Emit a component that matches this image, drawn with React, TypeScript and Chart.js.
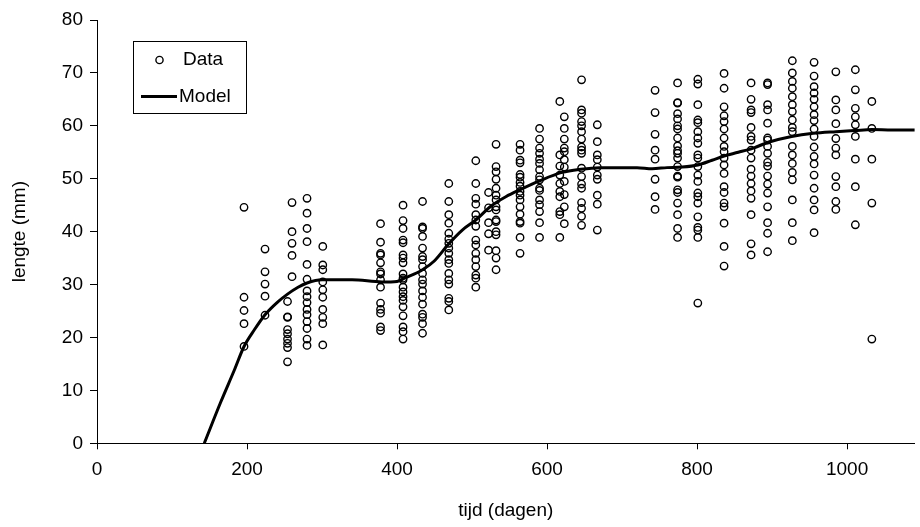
import React, { useEffect, useRef } from 'react';
import { Chart, registerables } from 'chart.js';

Chart.register(...registerables);

// Sampling days (x) and measured lengths (mm) for each sample
const sampleDays = [196, 224, 254, 260, 280, 301, 378, 408, 434, 469, 505, 522, 532, 564, 590, 617, 623, 646, 667, 744, 774, 801, 836, 872, 894, 927, 956, 985, 1011, 1033];
const sampleLengths = [
  [44.6, 27.6, 25.1, 22.6, 18.3],
  [36.7, 32.4, 30.1, 27.8, 24.2],
  [26.8, 23.9, 23.8, 21.5, 20.7, 19.7, 18.9, 18.1, 15.4],
  [45.5, 40.0, 37.8, 35.5, 31.5],
  [46.3, 43.5, 40.6, 38.1, 33.8, 31.0, 28.8, 27.7, 26.6, 25.3, 24.3, 23.0, 21.7, 19.7, 18.5],
  [37.2, 33.7, 32.8, 30.5, 29.0, 27.6, 25.3, 23.8, 22.6, 18.6],
  [41.5, 38.0, 35.9, 35.6, 34.1, 32.4, 32.0, 30.9, 29.5, 26.5, 25.3, 24.6, 22.0, 21.3],
  [45.0, 42.1, 40.6, 38.4, 37.9, 35.6, 35.0, 34.1, 32.0, 31.2, 30.9, 29.5, 28.6, 27.7, 27.0, 25.8, 24.1, 22.0, 21.1, 19.7],
  [45.7, 40.9, 40.6, 39.1, 36.9, 35.3, 34.7, 33.4, 32.1, 30.9, 30.1, 28.8, 27.6, 26.3, 24.4, 23.8, 22.6, 20.8],
  [49.1, 45.7, 43.2, 41.6, 39.7, 38.6, 37.8, 36.9, 35.9, 34.7, 34.0, 32.1, 30.9, 30.1, 27.4, 26.8, 25.2],
  [53.4, 49.1, 46.3, 45.2, 43.2, 42.2, 41.0, 38.4, 37.5, 35.9, 34.7, 33.4, 31.8, 31.2, 29.5],
  [47.4, 44.5, 41.7, 39.6, 36.5],
  [56.5, 52.3, 51.3, 49.9, 48.2, 46.9, 46.0, 44.7, 44.1, 42.2, 41.9, 40.0, 39.4, 36.4, 35.0, 32.8],
  [56.5, 55.4, 53.5, 53.0, 50.8, 50.3, 49.3, 48.6, 47.6, 46.9, 46.0, 44.7, 43.3, 41.6, 41.9, 38.9, 35.9],
  [59.5, 57.5, 55.8, 54.8, 53.7, 52.9, 51.7, 50.4, 49.8, 48.2, 47.8, 46.0, 45.1, 43.8, 41.7, 38.9],
  [64.6, 54.5, 52.4, 50.7, 49.1, 47.6, 46.6, 43.8, 43.2, 38.9],
  [61.7, 59.5, 57.5, 55.8, 55.1, 53.6, 52.2, 49.5, 47.0, 44.7, 41.5],
  [68.7, 63.0, 62.4, 60.8, 60.0, 58.9, 57.5, 56.0, 55.4, 54.8, 52.0, 50.4, 49.0, 48.2, 45.5, 44.4, 42.9, 41.2],
  [60.2, 57.0, 54.5, 53.6, 52.2, 50.7, 49.9, 46.9, 45.2, 40.3],
  [66.7, 62.5, 58.4, 55.4, 53.7, 49.9, 46.6, 44.2],
  [68.1, 64.4, 64.3, 62.3, 61.3, 60.0, 59.4, 57.7, 56.2, 55.3, 54.8, 53.9, 52.3, 50.5, 50.3, 47.9, 47.4, 45.4, 43.2, 40.6, 38.9],
  [68.8, 67.9, 64.0, 61.1, 60.6, 58.9, 57.7, 56.7, 54.5, 53.9, 52.3, 50.7, 49.5, 47.3, 46.6, 45.4, 42.8, 40.8, 40.3, 38.9, 26.5],
  [69.9, 67.1, 63.6, 61.9, 60.8, 59.4, 57.7, 56.1, 55.1, 53.9, 52.6, 51.0, 48.5, 47.4, 45.4, 44.7, 41.6, 37.2, 33.5],
  [68.1, 65.0, 63.0, 62.5, 59.7, 58.0, 57.3, 55.4, 53.9, 51.8, 50.5, 49.1, 47.7, 46.3, 43.2, 37.7, 35.6],
  [68.1, 67.8, 64.0, 63.0, 60.5, 57.7, 57.3, 56.1, 54.8, 53.1, 52.4, 50.5, 49.0, 47.3, 44.7, 41.7, 39.7, 36.2],
  [72.3, 70.0, 68.4, 67.1, 65.5, 64.0, 62.7, 61.1, 59.7, 58.9, 56.1, 54.5, 52.9, 51.2, 49.8, 46.0, 41.7, 38.3],
  [72.0, 69.4, 67.4, 66.2, 65.0, 63.6, 62.1, 61.0, 59.4, 58.0, 56.0, 54.2, 52.8, 50.7, 48.2, 46.0, 44.1, 39.8],
  [70.2, 64.9, 63.0, 60.4, 57.6, 55.8, 54.5, 50.4, 48.5, 45.7, 44.2],
  [70.6, 66.8, 63.3, 61.7, 60.2, 58.0, 53.7, 48.5, 41.3],
  [64.6, 59.5, 53.7, 45.4, 19.7],
];

// Fitted model curve
const modelDays = [143, 165, 183, 196, 210, 224, 240, 254, 268, 280, 300, 340, 380, 400, 410, 434, 450, 469, 487, 505, 525, 545, 565, 590, 620, 645, 670, 720, 740, 760, 780, 801, 820, 836, 855, 875, 895, 926, 955, 985, 1010, 1033, 1060, 1100];
const modelLengths = [0, 7.8, 13.8, 18.3, 21.5, 24.3, 26.6, 28.2, 29.5, 30.3, 30.9, 30.9, 30.5, 30.6, 31.2, 32.8, 34.5, 37.7, 40.3, 42.2, 44.8, 46.6, 48.0, 49.6, 51.2, 51.8, 52.1, 52.1, 51.9, 52.1, 52.2, 52.6, 53.5, 54.3, 55.0, 55.8, 56.9, 58.0, 58.6, 58.9, 59.1, 59.3, 59.2, 59.2];

const xTicks = [0, 200, 400, 600, 800, 1000];
const yTicks = [0, 10, 20, 30, 40, 50, 60, 70, 80];

const FONT = "'Liberation Sans', Arial, sans-serif";

const legendPlugin = {
  id: 'customLegend',
  afterDraw(chart: any) {
    const ctx = chart.ctx;
    ctx.save();
    ctx.strokeStyle = '#000';
    ctx.lineWidth = 1;
    ctx.fillStyle = '#fff';
    ctx.fillRect(133.5, 41.5, 113, 72);
    ctx.strokeRect(133.5, 41.5, 113, 72);
    // Data marker
    ctx.beginPath();
    ctx.lineWidth = 1.4;
    ctx.arc(159.5, 60, 3.6, 0, Math.PI * 2);
    ctx.stroke();
    // Model line
    ctx.beginPath();
    ctx.lineWidth = 3;
    ctx.moveTo(141, 96.5);
    ctx.lineTo(177, 96.5);
    ctx.stroke();
    ctx.fillStyle = '#000';
    ctx.font = `19px ${FONT}`;
    ctx.textBaseline = 'middle';
    ctx.textAlign = 'left';
    ctx.fillText('Data', 183, 60);
    ctx.fillText('Model', 179, 97);
    ctx.restore();
  },
};

export default function App() {
  const ref = useRef<HTMLCanvasElement | null>(null);

  useEffect(() => {
    if (!ref.current) return;
    const points: { x: number; y: number }[] = [];
    sampleDays.forEach((d, i) => {
      sampleLengths[i].forEach((v) => points.push({ x: d, y: v }));
    });
    const model = modelDays.map((d, i) => ({ x: d, y: modelLengths[i] }));

    const chart = new Chart(ref.current, {
      type: 'scatter',
      data: {
        datasets: [
          {
            label: 'Model',
            data: model,
            showLine: true,
            borderColor: '#000',
            borderWidth: 3,
            pointRadius: 0,
            cubicInterpolationMode: 'monotone',
            order: 0,
          } as any,
          {
            label: 'Data',
            data: points,
            pointRadius: 3.7,
            pointBorderWidth: 1.4,
            borderColor: '#000',
            backgroundColor: 'rgba(0,0,0,0)',
            pointBackgroundColor: 'rgba(0,0,0,0)',
            pointBorderColor: '#000',
            order: 1,
          },
        ],
      },
      options: {
        animation: false,
        responsive: true,
        maintainAspectRatio: false,
        layout: { padding: { top: 20, left: 0, right: 0, bottom: 0 } },
        plugins: { legend: { display: false }, tooltip: { enabled: false } },
        scales: {
          x: {
            type: 'linear',
            min: 0,
            max: 1090,
            afterBuildTicks: (scale: any) => {
              scale.ticks = xTicks.map((v) => ({ value: v }));
            },
            afterFit: (scale: any) => {
              scale.height = 83.7;
            },
            grid: { drawOnChartArea: false, drawTicks: true, tickLength: 6, color: '#000' },
            border: { color: '#000', width: 1 },
            ticks: {
              color: '#000',
              font: { family: FONT, size: 19 },
              padding: 9,
              maxRotation: 0,
              callback: (v: any) => String(v),
            },
            title: {
              display: true,
              text: 'tijd (dagen)',
              color: '#000',
              font: { family: FONT, size: 19 },
              padding: { top: 0, bottom: 5 },
            },
          },
          y: {
            type: 'linear',
            min: 0,
            max: 80,
            afterBuildTicks: (scale: any) => {
              scale.ticks = yTicks.map((v) => ({ value: v }));
            },
            afterFit: (scale: any) => {
              scale.width = 97;
            },
            grid: { drawOnChartArea: false, drawTicks: true, tickLength: 7, color: '#000' },
            border: { color: '#000', width: 1 },
            ticks: { color: '#000', font: { family: FONT, size: 19 }, padding: 7, callback: (v: any) => String(v) },
            title: {
              display: true,
              text: 'lengte (mm)',
              color: '#000',
              font: { family: FONT, size: 19 },
              padding: { top: 8, bottom: 0 },
            },
          },
        },
      },
      plugins: [legendPlugin],
    });
    return () => chart.destroy();
  }, []);

  return (
    <div style={{ position: 'fixed', left: 0, top: 0, width: 920, height: 527, background: '#fff' }}>
      <canvas ref={ref} />
    </div>
  );
}
